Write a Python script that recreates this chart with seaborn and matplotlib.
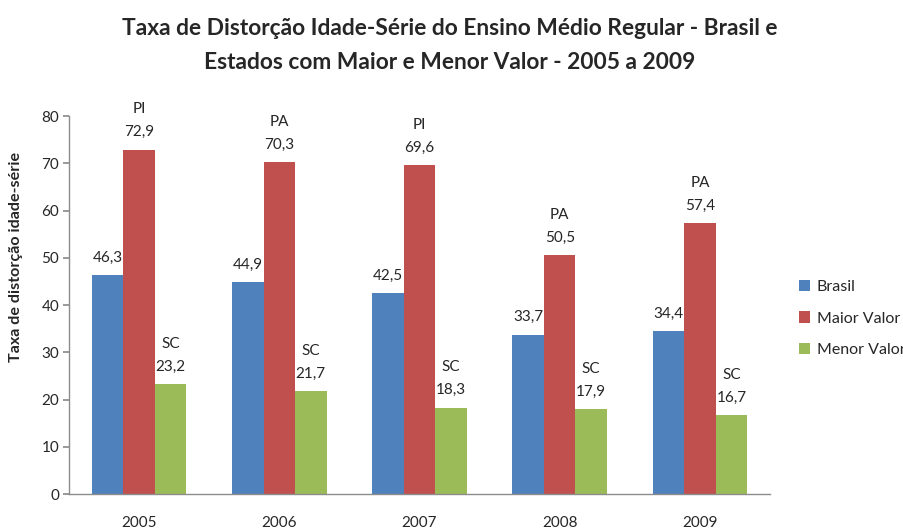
import matplotlib
matplotlib.use("Agg")
import matplotlib.pyplot as plt
import seaborn as sns
import pandas as pd

years = ["2005", "2006", "2007", "2008", "2009"]
brasil = [46.3, 44.9, 42.5, 33.7, 34.4]
maior = [72.9, 70.3, 69.6, 50.5, 57.4]
menor = [23.2, 21.7, 18.3, 17.9, 16.7]
maior_uf = ["PI", "PA", "PI", "PA", "PA"]
menor_uf = ["SC", "SC", "SC", "SC", "SC"]
series = ["Brasil", "Maior Valor", "Menor Valor"]
colors = ["#4F81BD", "#C0504D", "#9BBB59"]

rows = []
for i, y in enumerate(years):
    for s, vals in zip(series, [brasil, maior, menor]):
        rows.append({"Ano": y, "Série": s, "Valor": vals[i]})
df = pd.DataFrame(rows)

sns.set_theme(style="white")
plt.rcParams["font.family"] = ["Lato", "DejaVu Sans"]

fig = plt.figure(figsize=(9.04, 5.30), dpi=100)
ax = fig.add_axes([0.0763, 0.0679, 0.7755, 0.7131])

sns.barplot(data=df, x="Ano", y="Valor", hue="Série", hue_order=series,
            palette=colors, width=0.675, saturation=1, ax=ax, legend=True,
            errorbar=None, linewidth=0, edgecolor="none")

ax.set_ylim(0, 80)
ax.set_yticks(range(0, 81, 10))
ax.set_xlim(-0.5, 4.5)
ax.set_xlabel("")
ax.set_ylabel("Taxa de distorção idade-série", fontsize=11.6, fontweight="bold")
ax.yaxis.set_label_coords(-0.066, 0.627)
for side in ["top", "right"]:
    ax.spines[side].set_visible(False)
for side in ["left", "bottom"]:
    ax.spines[side].set_color("#8C8C8C")
    ax.spines[side].set_linewidth(1.0)
ax.tick_params(axis="y", length=4, color="#8C8C8C", labelsize=11, pad=3, left=True)
ax.tick_params(axis="x", length=0, labelsize=11, pad=16)

# value labels
containers = ax.containers
for ci, (cont, vals) in enumerate(zip(containers, [brasil, maior, menor])):
    for j, bar in enumerate(cont):
        x = bar.get_x() + bar.get_width() / 2
        h = bar.get_height()
        ax.annotate(f"{vals[j]:.1f}".replace(".", ","), (x, h),
                    xytext=(0, 7.5), textcoords="offset points",
                    ha="center", va="bottom", fontsize=11)
        if ci == 1:
            ax.annotate(maior_uf[j], (x, h), xytext=(0, 24),
                        textcoords="offset points", ha="center", va="bottom",
                        fontsize=11)
        elif ci == 2:
            ax.annotate(menor_uf[j], (x, h), xytext=(0, 24),
                        textcoords="offset points", ha="center", va="bottom",
                        fontsize=11)

handles, labels = ax.get_legend_handles_labels()
ax.get_legend().remove()
fig.legend(handles, labels, loc="center left", bbox_to_anchor=(0.877, 0.399),
           frameon=False, fontsize=11.5, handlelength=0.7, handleheight=0.7,
           handletextpad=0.4, labelspacing=1.1, borderaxespad=0)

fig.text(0.497, 0.947, "Taxa de Distorção Idade-Série do Ensino Médio Regular - Brasil e",
         ha="center", va="center", fontsize=16.4, fontweight="bold")
fig.text(0.497, 0.883, "Estados com Maior e Menor Valor - 2005 a 2009",
         ha="center", va="center", fontsize=16.4, fontweight="bold")

fig.savefig("out.png", dpi=100)
